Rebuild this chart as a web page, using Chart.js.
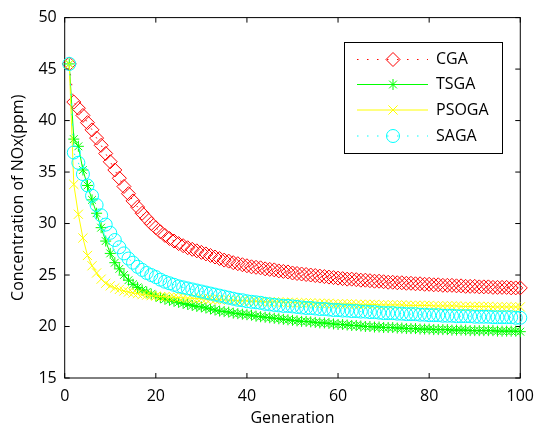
<!DOCTYPE html>
<html>
<head>
<meta charset="utf-8">
<script src="https://cdn.jsdelivr.net/npm/chart.js@4.4.1/dist/chart.umd.min.js"></script>
<style>
  html, body { margin: 0; padding: 0; background: #fff; }
  #wrap { width: 543px; height: 429px; }
</style>
</head>
<body>
<div id="wrap"><canvas id="chart" width="543" height="429"></canvas></div>
<script>
// generation index 1..100 (x positions)
const generations = Array.from({ length: 100 }, (_, i) => i + 1);

const seriesNames = ['CGA', 'TSGA', 'PSOGA', 'SAGA'];

const cgaValues = [
  45.5, 41.8, 41.2, 40.5, 39.8, 39.1, 38.3, 37.6, 36.8, 36.0,
  35.2, 34.4, 33.6, 32.9, 32.2, 31.6, 31.0, 30.5, 30.0, 29.6,
  29.2, 28.85, 28.55, 28.3, 28.05, 27.85, 27.65, 27.5, 27.35, 27.2,
  27.05, 26.9, 26.75, 26.6, 26.45, 26.35, 26.2, 26.1, 26.0, 25.9,
  25.8, 25.75, 25.7, 25.6, 25.55, 25.5, 25.4, 25.35, 25.3, 25.2,
  25.15, 25.1, 25.05, 25.0, 24.95, 24.9, 24.85, 24.8, 24.75, 24.7,
  24.65, 24.6, 24.6, 24.55, 24.5, 24.5, 24.45, 24.4, 24.4, 24.35,
  24.3, 24.3, 24.25, 24.25, 24.2, 24.2, 24.15, 24.15, 24.1, 24.1,
  24.05, 24.05, 24.0, 24.0, 24.0, 23.95, 23.95, 23.9, 23.9, 23.9,
  23.85, 23.85, 23.85, 23.8, 23.8, 23.8, 23.8, 23.75, 23.75, 23.75
];

const tsgaValues = [
  45.5, 38.2, 37.5, 35.2, 33.7, 32.3, 31.0, 29.6, 28.3, 27.1,
  26.2, 25.6, 25.0, 24.5, 24.1, 23.8, 23.55, 23.35, 23.15, 22.95,
  22.8, 22.65, 22.55, 22.45, 22.35, 22.25, 22.15, 22.05, 21.95, 21.9,
  21.8, 21.7, 21.6, 21.5, 21.45, 21.4, 21.3, 21.25, 21.2, 21.15,
  21.1, 21.0, 20.95, 20.9, 20.85, 20.8, 20.75, 20.7, 20.65, 20.6,
  20.55, 20.5, 20.5, 20.45, 20.4, 20.35, 20.35, 20.3, 20.25, 20.2,
  20.2, 20.15, 20.1, 20.1, 20.05, 20.0, 20.0, 19.95, 19.95, 19.9,
  19.9, 19.9, 19.85, 19.85, 19.8, 19.8, 19.8, 19.75, 19.75, 19.75,
  19.7, 19.7, 19.7, 19.7, 19.65, 19.65, 19.65, 19.65, 19.6, 19.6,
  19.6, 19.6, 19.6, 19.6, 19.55, 19.55, 19.55, 19.55, 19.55, 19.5
];

const psogaValues = [
  45.5, 33.8, 30.9, 28.6, 26.9, 25.9, 25.2, 24.6, 24.2, 23.95,
  23.75, 23.6, 23.45, 23.35, 23.25, 23.2, 23.1, 23.05, 23.0, 22.95,
  22.9, 22.9, 22.85, 22.85, 22.8, 22.8, 22.75, 22.75, 22.7, 22.7,
  22.65, 22.65, 22.6, 22.6, 22.6, 22.55, 22.55, 22.5, 22.5, 22.5,
  22.45, 22.45, 22.45, 22.4, 22.4, 22.4, 22.4, 22.35, 22.35, 22.35,
  22.3, 22.3, 22.3, 22.3, 22.25, 22.25, 22.25, 22.25, 22.2, 22.2,
  22.2, 22.2, 22.2, 22.15, 22.15, 22.15, 22.15, 22.15, 22.1, 22.1,
  22.1, 22.1, 22.1, 22.1, 22.05, 22.05, 22.05, 22.05, 22.05, 22.05,
  22.0, 22.0, 22.0, 22.0, 22.0, 22.0, 21.95, 21.95, 21.95, 21.95,
  21.95, 21.95, 21.95, 21.9, 21.9, 21.9, 21.9, 21.9, 21.9, 21.9
];

const sagaValues = [
  45.5, 36.9, 35.9, 34.8, 33.7, 32.7, 31.8, 30.8, 29.9, 29.1,
  28.4, 27.7, 27.1, 26.6, 26.2, 25.8, 25.5, 25.2, 25.0, 24.8,
  24.55, 24.35, 24.2, 24.05, 23.9, 23.8, 23.7, 23.6, 23.5, 23.4,
  23.3, 23.2, 23.1, 23.0, 22.9, 22.8, 22.7, 22.6, 22.55, 22.45,
  22.4, 22.35, 22.3, 22.2, 22.15, 22.1, 22.05, 22.0, 22.0, 21.95,
  21.9, 21.85, 21.8, 21.8, 21.75, 21.7, 21.7, 21.65, 21.6, 21.6,
  21.55, 21.55, 21.5, 21.5, 21.45, 21.45, 21.4, 21.4, 21.35, 21.3,
  21.3, 21.3, 21.25, 21.25, 21.2, 21.2, 21.2, 21.15, 21.15, 21.1,
  21.1, 21.1, 21.05, 21.05, 21.05, 21.0, 21.0, 21.0, 21.0, 20.95,
  20.95, 20.95, 20.95, 20.9, 20.9, 20.9, 20.9, 20.9, 20.85, 20.85
];

const xTicks = [0, 20, 40, 60, 80, 100];
const yTicks = [15, 20, 25, 30, 35, 40, 45, 50];

const FONT = '"Open Sans", "DejaVu Sans", sans-serif';
const DOTTED = [1.5, 8.5];

const styles = [
  { color: '#ff0000', point: 'rectRot', radius: 7, dash: DOTTED },
  { color: '#00ff00', point: 'star', radius: 5.5, dash: [] },
  { color: '#ffff00', point: 'crossRot', radius: 6.5, dash: [] },
  { color: '#00ffff', point: 'circle', radius: 6.5, dash: DOTTED },
];

const allValues = [cgaValues, tsgaValues, psogaValues, sagaValues];

function toPoints(vals) {
  return vals.map((v, i) => ({ x: generations[i], y: v }));
}

const datasets = allValues.map((vals, i) => ({
  label: seriesNames[i],
  data: toPoints(vals),
  borderColor: styles[i].color,
  borderWidth: 1,
  borderDash: styles[i].dash,
  pointStyle: styles[i].point,
  pointRadius: styles[i].radius,
  pointBorderColor: styles[i].color,
  pointBackgroundColor: 'rgba(0,0,0,0)',
  pointBorderWidth: 1,
  tension: 0,
  clip: false,
  order: 3 - i, // later series drawn on top, like MATLAB
}));

// frame + inward tick marks on all four sides
const boxPlugin = {
  id: 'box',
  beforeDatasetsDraw(chart) {
    const { ctx, chartArea: a, scales } = chart;
    ctx.save();
    ctx.strokeStyle = '#000';
    ctx.lineWidth = 1;
    ctx.strokeRect(a.left, a.top, a.right - a.left, a.bottom - a.top);
    ctx.beginPath();
    xTicks.forEach(t => {
      const x = scales.x.getPixelForValue(t);
      ctx.moveTo(x, a.bottom); ctx.lineTo(x, a.bottom - 5);
      ctx.moveTo(x, a.top); ctx.lineTo(x, a.top + 5);
    });
    yTicks.forEach(t => {
      const y = scales.y.getPixelForValue(t);
      ctx.moveTo(a.left, y); ctx.lineTo(a.left + 5, y);
      ctx.moveTo(a.right, y); ctx.lineTo(a.right - 5, y);
    });
    ctx.stroke();
    ctx.restore();
  }
};

function drawMarker(ctx, kind, x, y, r) {
  ctx.beginPath();
  if (kind === 'rectRot') {
    ctx.moveTo(x, y - r); ctx.lineTo(x + r, y); ctx.lineTo(x, y + r); ctx.lineTo(x - r, y); ctx.closePath();
  } else if (kind === 'circle') {
    ctx.arc(x, y, r, 0, Math.PI * 2);
  } else if (kind === 'crossRot' || kind === 'star') {
    const d = r * Math.SQRT1_2;
    ctx.moveTo(x - d, y - d); ctx.lineTo(x + d, y + d);
    ctx.moveTo(x - d, y + d); ctx.lineTo(x + d, y - d);
    if (kind === 'star') {
      ctx.moveTo(x - r, y); ctx.lineTo(x + r, y);
      ctx.moveTo(x, y - r); ctx.lineTo(x, y + r);
    }
  }
  ctx.stroke();
}

// MATLAB-style legend box, top right
const legendPlugin = {
  id: 'matlabLegend',
  afterDraw(chart) {
    const ctx = chart.ctx;
    const box = { x: 344, y: 42, w: 158, h: 111 };
    const rows = [59.5, 84.5, 110, 136];
    ctx.save();
    ctx.fillStyle = '#fff';
    ctx.fillRect(box.x, box.y, box.w, box.h);
    ctx.strokeStyle = '#000';
    ctx.lineWidth = 1;
    ctx.strokeRect(box.x + 0.5, box.y + 0.5, box.w, box.h);
    seriesNames.forEach((name, i) => {
      const st = styles[i];
      const y = rows[i];
      ctx.strokeStyle = st.color;
      ctx.lineWidth = 1;
      ctx.setLineDash(st.dash);
      ctx.beginPath();
      ctx.moveTo(357, y); ctx.lineTo(428, y);
      ctx.stroke();
      ctx.setLineDash([]);
      drawMarker(ctx, st.point, 393, y, st.radius);
      ctx.fillStyle = '#000';
      ctx.font = '16px ' + FONT;
      ctx.textBaseline = 'middle';
      ctx.textAlign = 'left';
      ctx.fillText(name, 436, y);
    });
    ctx.restore();
  }
};

new Chart(document.getElementById('chart'), {
  type: 'line',
  data: { datasets },
  options: {
    responsive: false,
    devicePixelRatio: 1,
    animation: false,
    layout: { padding: { left: 0, right: 14.7, top: 16.7, bottom: 0 } },
    plugins: { legend: { display: false }, tooltip: { enabled: false } },
    scales: {
      x: {
        type: 'linear',
        min: 0, max: 100,
        afterFit(scale) { scale.height = 51; },
        afterBuildTicks(scale) { scale.ticks = xTicks.map(v => ({ value: v })); },
        grid: { display: false, drawTicks: false },
        border: { display: false },
        ticks: { color: '#000', padding: 9, maxRotation: 0, font: { family: FONT, size: 16 } },
        title: {
          display: true, text: 'Generation', color: '#000',
          font: { family: FONT, size: 16 }, padding: { top: 0, bottom: 1 }
        }
      },
      y: {
        type: 'linear',
        min: 15, max: 50,
        afterFit(scale) { scale.width = 64.7; },
        afterBuildTicks(scale) { scale.ticks = yTicks.map(v => ({ value: v })); },
        grid: { display: false, drawTicks: false },
        border: { display: false },
        ticks: { color: '#000', padding: 8, font: { family: FONT, size: 16 } },
        title: {
          display: true, text: 'Concentration of NOx(ppm)', color: '#000',
          font: { family: FONT, size: 16 }, padding: { top: 9, bottom: 0 }
        }
      }
    }
  },
  plugins: [boxPlugin, legendPlugin]
});
</script>
</body>
</html>
